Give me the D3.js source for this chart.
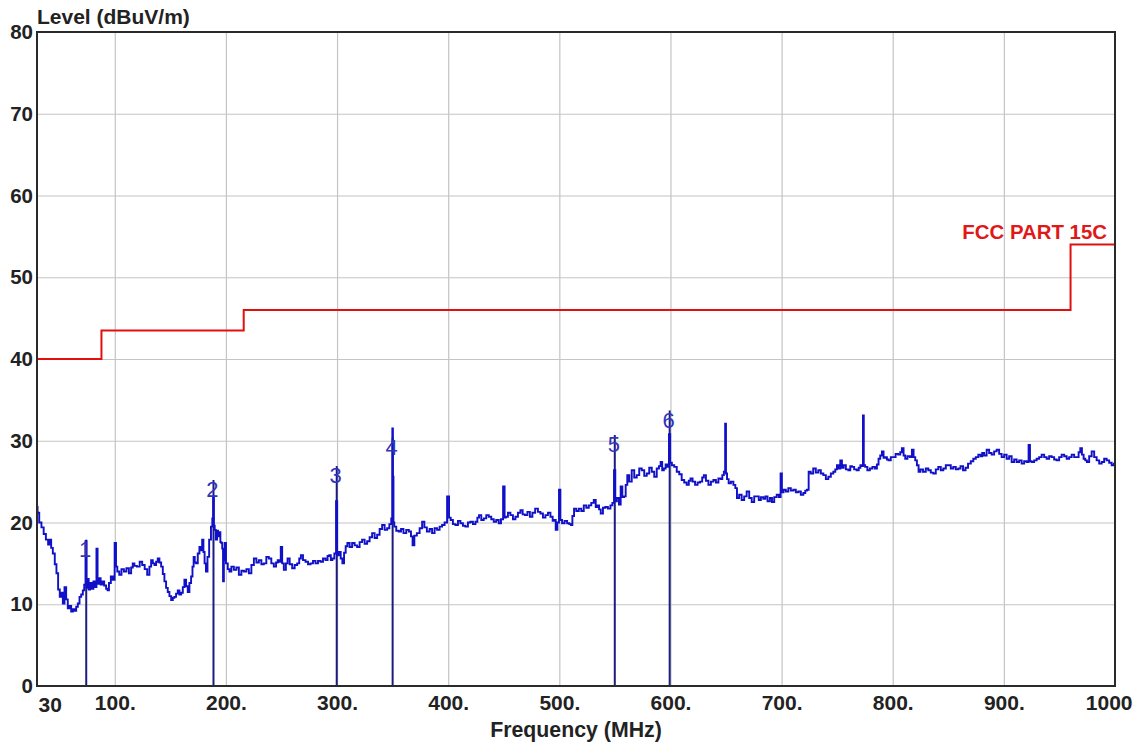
<!DOCTYPE html>
<html><head><meta charset="utf-8">
<script src="https://cdn.jsdelivr.net/npm/d3@7"></script>
<style>body{margin:0;background:#fff}svg{display:block}</style>
</head><body>
<svg id="c" width="1138" height="749"></svg>
<script>
// ---------- data ----------
const xTickValues = [30,100,200,300,400,500,600,700,800,900,1000];
const xTickLabels = ["30","100.","200.","300.","400.","500.","600.","700.","800.","900.","1000"];
const yTickValues = [0,10,20,30,40,50,60,70,80];

const limitFreq  = [30, 88, 216, 960, 1000];
const limitLevel = [40, 43.5, 46, 54, 54];
const limitName = "FCC PART 15C";

const markerNames  = ["1","2","3","4","5","6"];
const markerFreq   = [74.3, 188.8, 299.7, 350, 549.9, 599.3];
const markerLevel  = [15.8, 23.1, 24.8, 28.3, 28.6, 31.6];

const traceFreq = [
30,31,33,35,37,39,41,42,43.5,45,
47,48,50,51,52.5,54,55.5,57,58.4,60,
61.5,63,64.5,66,67.5,69,70.5,72,73,74.3,
74.8,76,77,78.5,80,81.5,83,84,85,86.5,
88,89.5,91.4,93,94,95.5,97.4,99,100.7,101.5,
103,105,107,109.4,111.5,113.9,115.5,116.8,118.5,121.3,
123.5,125.8,128,130.3,132,133.4,135,136.4,138,139.3,
141,142.4,144,145.3,147,148.3,150,151.4,153,154.3,
156,157.3,159,160.4,162,163.3,165,166.3,168,169.3,
170.5,171.4,172.5,173.8,175.5,176.8,178,179.2,180.3,181.3,
182.8,184,185.8,187.3,188.2,188.8,189.5,190.3,191.5,192.5,
193.3,194.5,195.5,196.3,197,197.8,198.5,199.3,200.8,202.5,
203.8,206,208.3,210.5,212.8,215,217.3,219.5,221.8,224,
226.3,228.5,230.8,233,235.2,237.5,239.7,242,244.2,246,
247.2,248.5,250.2,251,253.2,254.7,256.2,258.5,260.7,263,
265.2,266.7,268.2,270.5,272.7,275,277.2,279.5,281.7,284,
286.2,288.5,290.7,292.2,293.7,295,296.6,298.5,299.7,300.5,
302.6,304,305.6,307,308.5,310.1,312.5,314.6,317,319.1,
321.5,323.6,326,328.1,330.5,332.6,335,337.1,339.5,341.6,
344,346.1,348,349.5,350,350.5,351,352,354.5,356.6,
358.5,361,363.5,365.7,367.3,368.6,370.5,373.1,375.5,377.6,
379.5,382.1,384.5,386.5,389,391,393.5,395.5,398,400,
401.5,403,405.5,407.6,410,412,414.5,416.5,419,421,
423.5,425.5,427,428.5,431,433,435.5,437.5,440,442,
444.5,446.5,448.5,450.3,451.2,452.5,455,457,459.5,461.5,
464,466,468,470,472.5,474.5,477,479.5,482,484,
486.5,488.5,491,493,495,496,497.5,499,500.4,501.5,
503.4,506,508,510,511,512.5,514,516.5,518.5,521,
523,525.5,527.5,530,532,533.5,535,536.5,538,540.5,
542.4,545,547,548.5,549.9,550.8,552.8,554.5,555.9,557.5,
558.9,560.5,561.8,564,566.3,568.5,570.8,573,575.3,577.5,
579.8,582,584.3,586.5,588.8,590.5,591.8,593.3,594.8,596.5,
598,599.3,600.2,602.3,604.5,606.8,609,611.2,613.5,615.7,
617.3,618.8,621,623.3,625.5,627.8,629.3,630.8,633,635.3,
637.5,639.8,642,644.3,646,647.3,648.8,649.6,650.3,651.5,
653.2,655.5,657.7,659,660.7,662.9,665.2,667.4,669.7,672,
674.2,676.5,678.7,680.2,682.5,684.5,686.2,688.5,690.5,692.2,
694.5,696.7,698.5,699.7,700.8,702.6,705,707.1,709.5,711.6,
714,716.1,718.5,720.6,722,723.6,725.1,727.3,729.6,732,
734.1,736.5,738.6,741,743.1,745.5,747.6,749,750.6,752,
753.6,755,756.6,759,761.1,762.5,764.1,766.5,768.6,770.2,
771.6,772.8,773.6,774.3,776,778.3,780.5,783,785,786.5,
788,789.5,791,792.5,794,795.5,797,799.5,801.5,803.7,
806,807.5,809,810.5,812,814.5,816.5,818,819.5,821,
822.5,824,826,828.5,831,833,835.5,837.5,840,842,
844.5,846.5,849,851,853.5,855.5,858,860,862,864.5,
866.5,869,871.5,873.5,876,878,880,881,883.5,885.5,
888,890,892.5,894.5,897,899,901.5,903.5,906,908,
910.5,912.5,915,917,919.5,921.5,923,924,926,928.5,
930.5,933,935,937.5,939.5,942,944,946.5,948.5,951,
953,955.5,957.5,960,962,964.5,966.5,968,969.5,971,
972.5,974,975.5,978,980,982.5,984.5,987,989,991.5,
993.5,996,998,1000
];
const traceLevel = [
21.9,21.2,20.0,19.4,18.6,17.9,17.3,17.9,16.9,16.2,
14.9,13.8,11.8,10.9,11.4,10.1,12.1,10.6,9.5,9.8,
9.1,9.4,9.2,9.7,10.1,10.9,11.2,11.7,12.4,17.7,
12.0,13.1,11.8,12.6,11.9,12.8,12.1,16.8,12.5,13.2,
12.4,12.8,12.3,11.9,11.7,12.6,13.4,13.0,17.5,14.6,
14.0,13.6,14.3,14.0,14.4,13.8,14.5,15.0,14.7,14.6,
15.2,14.8,14.3,13.6,14.6,15.4,15.0,14.8,15.2,15.6,
15.1,14.6,13.7,12.8,12.0,11.5,11.0,10.5,10.8,10.9,
11.3,11.7,11.2,11.4,12.1,13.0,12.2,11.5,12.6,13.4,
14.6,15.8,15.1,15.0,16.2,17.0,16.6,17.9,16.4,15.0,
14.0,15.8,17.9,19.5,20.5,23.2,19.6,19.1,17.9,19.0,
18.3,18.8,17.6,17.5,16.8,12.8,15.4,17.5,15.0,14.3,
14.0,14.6,14.2,14.5,13.6,14.1,14.0,14.3,13.8,14.8,
15.6,15.1,15.4,14.9,15.0,15.8,15.6,15.0,14.6,15.1,
15.4,15.2,17.0,15.0,14.2,15.0,15.6,14.9,14.4,14.8,
15.0,15.6,16.0,15.4,15.2,14.9,15.0,15.3,15.0,15.3,
15.2,15.6,15.4,15.9,16.0,15.4,15.6,16.2,22.6,16.0,
16.4,15.6,15.0,16.3,17.1,17.5,17.0,17.5,17.2,17.0,
17.6,17.9,17.4,17.7,18.2,18.7,18.1,18.5,19.2,19.7,
19.1,19.3,19.8,20.5,31.5,25.6,20.0,19.5,19.0,18.9,
19.2,18.7,19.1,18.9,18.3,17.2,18.4,18.7,19.3,20.1,
19.4,18.9,19.2,18.7,19.3,19.1,19.5,19.7,20.0,23.2,
20.6,20.3,19.8,19.7,20.2,19.9,19.6,19.5,20.0,20.1,
19.8,20.1,20.6,20.9,20.3,20.5,20.9,20.7,20.4,20.1,
20.3,19.9,20.4,24.4,20.6,20.7,21.2,20.9,20.4,20.7,
21.2,21.5,21.0,20.9,21.3,20.7,21.2,21.7,21.3,21.1,
20.6,20.9,21.2,20.7,20.2,20.3,19.1,20.0,24.0,20.3,
19.9,20.2,19.9,19.8,19.7,20.8,21.7,21.4,21.7,21.4,
22.1,21.8,22.1,22.4,22.75,21.9,22.1,21.6,21.1,21.8,
21.9,21.7,22.1,22.4,26.4,22.6,23.0,22.2,24.4,23.1,
23.2,24.6,25.8,25.0,26.4,25.5,25.8,26.6,26.4,25.7,
26.0,26.7,26.2,25.6,26.6,26.9,27.4,26.4,26.6,27.1,
26.8,30.8,27.3,27.0,26.8,26.2,25.9,25.2,24.9,24.6,
25.1,25.4,25.0,24.6,24.9,25.0,25.5,25.8,25.1,24.6,
25.0,25.2,24.9,25.4,25.3,25.8,26.2,32.1,26.0,25.3,
24.8,25.0,24.6,24.2,23.0,23.4,22.75,23.2,23.8,23.0,
22.5,23.2,23.2,22.75,23.1,22.9,23.2,22.6,23.0,22.5,
23.1,23.4,23.1,26.0,23.7,24.0,23.8,24.2,23.9,24.0,
23.7,23.8,23.4,23.6,23.9,24.0,26.2,26.0,26.6,26.1,
26.4,26.0,25.8,25.3,25.6,26.0,26.2,26.5,27.0,26.6,
27.6,26.7,27.0,26.5,26.4,26.9,26.8,26.5,26.4,26.7,
27.0,26.9,33.1,27.0,26.8,26.4,26.6,26.8,26.6,27.1,
27.8,28.2,28.7,27.9,28.0,27.7,27.6,28.0,28.0,28.4,
28.3,28.6,29.1,28.2,27.8,28.1,28.0,28.9,28.0,27.6,
27.0,26.2,26.5,26.2,26.6,26.4,26.1,26.0,26.5,26.8,
26.4,26.6,27.0,27.0,26.6,26.8,26.5,26.6,26.9,26.4,
26.7,27.2,27.5,27.8,28.0,28.3,28.1,28.5,28.2,28.9,
28.5,28.3,28.7,28.9,28.4,28.0,28.3,27.8,28.1,27.4,
27.7,27.4,27.6,27.2,27.5,27.4,29.5,27.5,27.4,27.6,
27.8,28.0,28.3,28.0,27.8,28.1,28.0,27.7,27.6,28.0,
28.3,28.1,27.8,28.0,28.3,28.0,28.0,28.6,29.1,28.3,
27.8,27.6,27.4,28.1,28.7,28.0,27.6,27.2,27.4,27.8,
27.6,27.3,27.0,27.2
];

// ---------- chart ----------
const svg = d3.select("#c");
const L = 37, R = 1115, T = 32, B = 686;
const x = d3.scaleLinear().domain([30, 1000]).range([L, R]);
const y = d3.scaleLinear().domain([0, 80]).range([B, T]);
const FONT = "'Liberation Sans', Arial, sans-serif";

svg.append("rect").attr("width", 1138).attr("height", 749).attr("fill", "#fff");

// grid
const gx = svg.append("g").attr("transform", `translate(0,${B})`)
  .call(d3.axisBottom(x).tickValues(xTickValues.slice(1, -1)).tickSize(-(B - T)).tickFormat(""));
const gy = svg.append("g").attr("transform", `translate(${L},0)`)
  .call(d3.axisLeft(y).tickValues(yTickValues.slice(1, -1)).tickSize(-(R - L)).tickFormat(""));
[gx, gy].forEach(g => {
  g.select(".domain").remove();
  g.selectAll("line").attr("stroke", "#c4c4c4").attr("stroke-width", 1.2);
});

// limit line
const limitPts = limitFreq.map((f, i) => [f, limitLevel[i]]);
svg.append("path").datum(limitPts)
  .attr("d", d3.line().x(d => x(d[0])).y(d => y(d[1])).curve(d3.curveStepAfter))
  .attr("fill", "none").attr("stroke", "#e01010").attr("stroke-width", 2);

// marker lines
const markers = markerNames.map((n, i) => ({n, f: markerFreq[i], v: markerLevel[i]}));
svg.append("g").selectAll("line").data(markers).join("line")
  .attr("x1", d => x(d.f)).attr("x2", d => x(d.f))
  .attr("y1", y(0)).attr("y2", d => y(d.v + 2.1))
  .attr("stroke", "#1c1c80").attr("stroke-width", 2);

// trace
const tracePts = traceFreq.map((f, i) => [f, traceLevel[i]]);
svg.append("path").datum(tracePts)
  .attr("d", d3.line().x(d => x(d[0])).y(d => y(d[1])).curve(d3.curveStep))
  .attr("fill", "none").attr("stroke", "#1010c8").attr("stroke-width", 1.9);

// marker labels
svg.append("g").selectAll("text").data(markers).join("text")
  .attr("x", d => x(d.f) - 1).attr("y", d => y(d.v))
  .attr("text-anchor", "middle")
  .attr("font-family", FONT).attr("font-size", 22)
  .attr("fill", "#3434b8").text(d => d.n);

// frame
svg.append("rect").attr("x", L).attr("y", T).attr("width", R - L).attr("height", B - T)
  .attr("fill", "none").attr("stroke", "#2a2a2a").attr("stroke-width", 2);

// x axis labels
const ax = svg.append("g").attr("transform", `translate(0,${B})`)
  .call(d3.axisBottom(x).tickValues(xTickValues).tickFormat((d, i) => xTickLabels[i]).tickSize(0).tickPadding(9));
ax.select(".domain").remove();
ax.selectAll("text").attr("font-family", FONT).attr("font-size", 21).attr("font-weight", "bold").attr("fill", "#222");
ax.selectAll("text").filter((d, i) => i === 0).attr("text-anchor", "start").attr("dx", 1).attr("dy", "0.8em");
ax.selectAll("text").filter((d, i) => i === xTickValues.length - 1).attr("text-anchor", "end").attr("dx", 17);

// y axis labels
const ay = svg.append("g").attr("transform", `translate(${L},0)`)
  .call(d3.axisLeft(y).tickValues(yTickValues).tickSize(0).tickPadding(4));
ay.select(".domain").remove();
ay.selectAll("text").attr("font-family", FONT).attr("font-size", 20.5).attr("font-weight", "bold").attr("fill", "#222");

// titles
svg.append("text").attr("x", L).attr("y", 24)
  .attr("font-family", FONT).attr("font-size", 21).attr("font-weight", "bold").attr("fill", "#222")
  .text("Level (dBuV/m)");
svg.append("text").attr("x", (L + R) / 2).attr("y", 737).attr("text-anchor", "middle")
  .attr("font-family", FONT).attr("font-size", 21.3).attr("font-weight", "bold").attr("fill", "#222")
  .text("Frequency (MHz)");
svg.append("text").attr("x", 1107).attr("y", 239).attr("text-anchor", "end")
  .attr("font-family", FONT).attr("font-size", 20.4).attr("font-weight", "bold").attr("fill", "#e01818")
  .text(limitName);
</script>
</body></html>
